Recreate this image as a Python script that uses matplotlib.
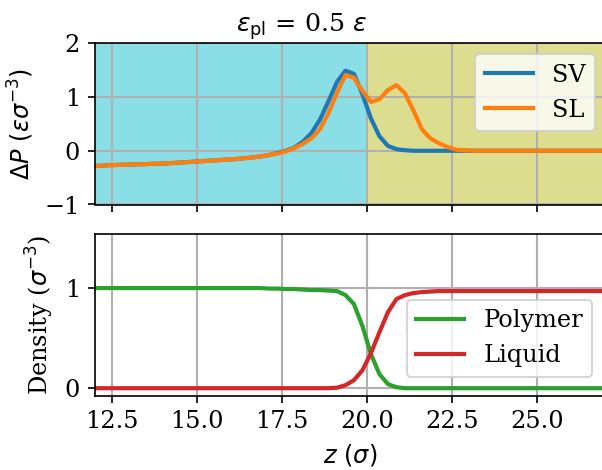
import matplotlib
matplotlib.use("Agg")
import matplotlib.pyplot as plt
import numpy as np

# z positions (bin centres, sigma): 11.875, 12.125, ... 27.125
z = np.arange(11.875, 27.2, 0.25)

# pressure difference profiles (eps sigma^-3)
dp_sv = [-0.285, -0.28, -0.27, -0.265, -0.26, -0.255, -0.25, -0.245, -0.24, -0.235,   # 11.875 - 14.125
         -0.225, -0.215, -0.205, -0.195, -0.185, -0.175, -0.165, -0.155, -0.14, -0.125,  # 14.375 - 16.625
         -0.105, -0.08, -0.04, 0.00, 0.06, 0.17, 0.33, 0.58, 0.92, 1.28,                 # 16.875 - 19.125
         1.49, 1.43, 1.05, 0.60, 0.27, 0.09, 0.03, 0.01, 0.00, 0.00,                     # 19.375 - 21.625
         0.00, 0.00, 0.00, 0.00, 0.00, 0.00, 0.00, 0.00, 0.00, 0.00,
         0.00, 0.00, 0.00, 0.00, 0.00, 0.00, 0.00, 0.00, 0.00, 0.00,
         0.00, 0.00]
dp_sl = [-0.285, -0.28, -0.27, -0.265, -0.26, -0.255, -0.25, -0.245, -0.24, -0.235,
         -0.225, -0.215, -0.205, -0.195, -0.185, -0.175, -0.165, -0.155, -0.14, -0.125,
         -0.105, -0.08, -0.05, -0.01, 0.05, 0.13, 0.23, 0.40, 0.70, 1.08,
         1.41, 1.36, 1.11, 0.91, 0.96, 1.13, 1.22, 1.07, 0.75, 0.40,
         0.23, 0.14, 0.07, 0.02, 0.01, 0.00, 0.00, 0.00, 0.00, 0.00,
         0.00, 0.00, 0.00, 0.00, 0.00, 0.00, 0.00, 0.00, 0.00, 0.00,
         0.00, 0.00]

# density profiles (sigma^-3)
rho_polymer = [1.00, 1.00, 1.00, 1.00, 1.00, 1.00, 1.00, 1.00, 1.00, 1.00,
               1.00, 1.00, 1.00, 1.00, 1.00, 1.00, 1.00, 1.00, 1.00, 1.00,
               1.00, 0.995, 0.995, 0.99, 0.99, 0.985, 0.98, 0.98, 0.975, 0.97,
               0.93, 0.84, 0.62, 0.34, 0.14, 0.04, 0.01, 0.00, 0.00, 0.00,
               0.00, 0.00, 0.00, 0.00, 0.00, 0.00, 0.00, 0.00, 0.00, 0.00,
               0.00, 0.00, 0.00, 0.00, 0.00, 0.00, 0.00, 0.00, 0.00, 0.00,
               0.00, 0.00]
rho_liquid = [0.00, 0.00, 0.00, 0.00, 0.00, 0.00, 0.00, 0.00, 0.00, 0.00,
              0.00, 0.00, 0.00, 0.00, 0.00, 0.00, 0.00, 0.00, 0.00, 0.00,
              0.00, 0.00, 0.00, 0.00, 0.00, 0.00, 0.00, 0.00, 0.00, 0.005,
              0.03, 0.08, 0.18, 0.35, 0.56, 0.76, 0.89, 0.93, 0.95, 0.96,
              0.965, 0.97, 0.97, 0.97, 0.97, 0.97, 0.97, 0.97, 0.97, 0.97,
              0.97, 0.97, 0.97, 0.97, 0.97, 0.97, 0.97, 0.97, 0.97, 0.97,
              0.97, 0.97]

z_interface = 20.0

plt.rcParams["font.family"] = "DejaVu Serif"
plt.rcParams["mathtext.fontset"] = "dejavusans"
plt.rcParams["font.size"] = 11.5

fig = plt.figure(figsize=(603 / 150, 470 / 150), dpi=150)
W, H = 603, 470
ax1 = fig.add_axes([94.7 / W, (H - 204.5) / H, 510 / W, 161.2 / H])
ax2 = fig.add_axes([94.7 / W, (H - 395.7) / H, 510 / W, 161.7 / H], sharex=ax1)

ax1.axvspan(11, z_interface, color="tab:cyan", alpha=0.5, lw=0)
ax1.axvspan(z_interface, 28, color="tab:olive", alpha=0.5, lw=0)
ax1.plot(z, dp_sv, color="tab:blue", lw=2, label="SV")
ax1.plot(z, dp_sl, color="tab:orange", lw=2, label="SL")
ax1.set_ylim(-1, 2)
ax1.set_yticks([-1, 0, 1, 2])
ax1.set_ylabel(r"$\Delta P\ (\epsilon\sigma^{-3})$")
ax1.grid(True, lw=1.0)
ax1.tick_params(labelbottom=False)
ax1.legend(loc="upper right", bbox_to_anchor=(0.981, 0.934), borderaxespad=0)

ax2.plot(z, rho_polymer, color="tab:green", lw=2, label="Polymer")
ax2.plot(z, rho_liquid, color="tab:red", lw=2, label="Liquid")
ax2.set_ylim(-0.075, 1.54)
ax2.set_yticks([0, 1])
ax2.set_ylabel(r"Density ($\sigma^{-3}$)")
ax2.set_xlabel(r"$z\ (\sigma)$")
ax2.grid(True, lw=1.0)
ax2.legend(loc="lower right", bbox_to_anchor=(0.976, 0.116), borderaxespad=0)

ax2.set_xlim(12, 27)
ax2.set_xticks([12.5, 15.0, 17.5, 20.0, 22.5, 25.0])

fig.suptitle(r"$\varepsilon_\mathrm{pl}$ = 0.5 $\varepsilon$", x=0.5, y=0.975, fontsize=12.2)

fig.savefig("out.png", dpi=150)
